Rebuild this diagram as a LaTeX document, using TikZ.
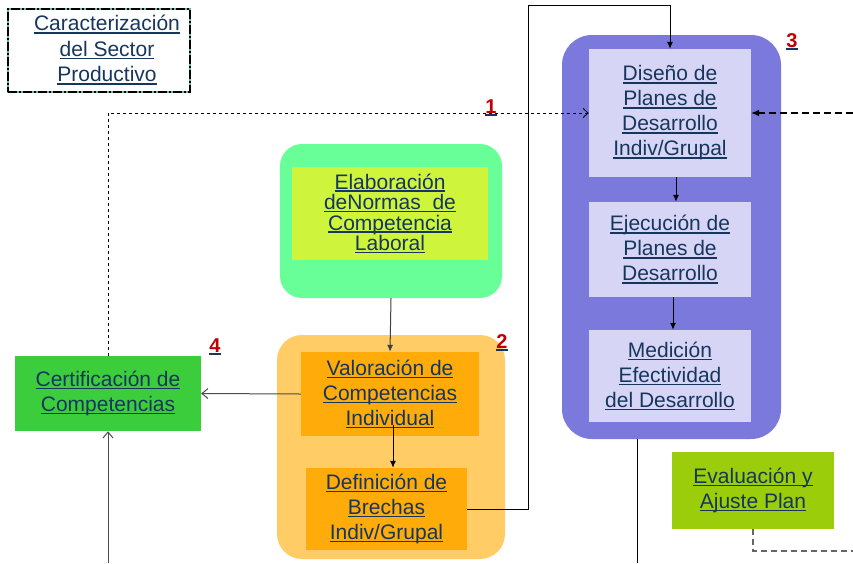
\documentclass[tikz,border=0pt]{standalone}
\usepackage{fontspec}
\setmainfont{Liberation Sans}
\usetikzlibrary{arrows.meta}

\definecolor{linktext}{RGB}{23,54,93}
\definecolor{numred}{RGB}{192,0,0}
\definecolor{purpleout}{RGB}{124,121,221}
\definecolor{lavender}{RGB}{214,213,245}
\definecolor{mint}{RGB}{104,255,152}
\definecolor{limeinner}{RGB}{206,245,60}
\definecolor{orangeout}{RGB}{255,204,102}
\definecolor{orangein}{RGB}{255,172,10}
\definecolor{certgreen}{RGB}{60,205,60}
\definecolor{evalgreen}{RGB}{155,205,10}
\definecolor{framegreen}{RGB}{102,187,153}

% underlined link-style text line
\newsavebox\lkbox
\newcommand\lk[1]{\sbox\lkbox{#1}\rlap{\color{linktext}\rule[-2.8pt]{\wd\lkbox}{1.5pt}}\usebox\lkbox}

\tikzset{
  txt/.style={inner sep=0pt, align=center, text=linktext,
    font=\fontsize{21}{25}\selectfont},
  stepbox/.style={txt, rectangle, draw=none},
  group/.style={rectangle, rounded corners=#1, inner sep=0pt, draw=none},
  num/.style={inner sep=0pt, anchor=base, text=numred,
    font=\fontsize{20}{24}\selectfont\bfseries},
  solid link/.style={line width=1pt, draw=black},
  filled tip/.style={-{Latex[length=7pt,width=6pt]}},
  open tip/.style={-{Straight Barb[length=6pt,width=10pt,line width=1pt]}},
}

\begin{document}
\begin{tikzpicture}[x=1pt,y=-1pt]
\useasboundingbox (0,0) rectangle (853,563);
\fill[white] (0,0) rectangle (853,563);

% --- outer rounded groups
\node[group=22pt, fill=mint, minimum width=222pt, minimum height=154pt] (elabgrp) at (391,221) {};
\node[group=25pt, fill=orangeout, minimum width=228pt, minimum height=224pt] (orgrp) at (391,447) {};
\node[group=30pt, fill=purpleout, minimum width=219pt, minimum height=404pt] (purgrp) at (671.5,237) {};

% --- frame of the sector box
\node[rectangle, draw=framegreen, line width=2pt, minimum width=182pt, minimum height=83pt, inner sep=0pt] (carframe) at (99,50.5) {};
\node[rectangle, draw=black, line width=2pt, dash pattern=on 9pt off 2pt on 2pt off 2pt, minimum width=182pt, minimum height=83pt, inner sep=0pt] (car) at (99,50.5) {};
\node[txt, font=\fontsize{21}{25.5}\selectfont] (cartext) at (107,50) {\lk{Caracterización}\\\lk{del Sector}\\\lk{Productivo}};

% --- step boxes
\node[stepbox, fill=limeinner, minimum width=196pt, minimum height=93pt, font=\fontsize{21}{20.5}\selectfont] (elab) at (390,213.5)
  {\lk{Elaboración}\\\lk{deNormas\ \ de}\\\lk{Competencia}\\\lk{Laboral}};
\node[stepbox, fill=orangein, minimum width=178pt, minimum height=84pt] (val) at (390,394)
  {\lk{Valoración de}\\\lk{Competencias}\\\lk{Individual}};
\node[stepbox, fill=orangein, minimum width=161pt, minimum height=82pt] (def) at (386.5,509)
  {\lk{Definición de}\\\lk{Brechas}\\\lk{Indiv/Grupal}};
\node[stepbox, fill=lavender, minimum width=162pt, minimum height=128pt] (dis) at (670,113)
  {\lk{Diseño de}\\\lk{Planes de}\\\lk{Desarrollo}\\\lk{Indiv/Grupal}};
\node[stepbox, fill=lavender, minimum width=162pt, minimum height=95pt] (eje) at (670,249.5)
  {\lk{Ejecución de}\\\lk{Planes de}\\\lk{Desarrollo}};
\node[stepbox, fill=lavender, minimum width=162pt, minimum height=92pt] (med) at (670,376)
  {\lk{Medición}\\\lk{Efectividad}\\\lk{del Desarrollo}};
\node[stepbox, fill=certgreen, minimum width=186pt, minimum height=75pt] (cert) at (108,393.5)
  {\lk{Certificación de}\\\lk{Competencias}};
\node[stepbox, fill=evalgreen, minimum width=162pt, minimum height=77pt] (eval) at (753,490.5)
  {\lk{Evaluación y}\\\lk{Ajuste Plan}};

% --- numbered labels
\node[num] (n1) at (491,113) {\lk{1}};
\node[num] (n2) at (502,348) {\lk{2}};
\node[num] (n3) at (792,47) {\lk{3}};
\node[num] (n4) at (215,352) {\lk{4}};

% --- free ends of connectors
\coordinate (topturn) at (528,5);
\coordinate (rightin) at (853,113);
\coordinate (purout) at (637,439);
\coordinate (purbottom) at (637,563);
\coordinate (certbottom) at (108,563);
\coordinate (evalout) at (853,551);
\coordinate (valdown) at ([xshift=3pt,yshift=11pt]val.south);

% --- connectors
\draw[solid link, draw=black!75, filled tip] (elabgrp.south) -- (val.north);
\draw[solid link, filled tip] (valdown) -- (valdown |- def.north);
\draw[solid link, draw=black!70, open tip] (val.west) -- (cert.east);
\draw[solid link, draw=black!70, open tip] (certbottom) -- (cert.south);
\draw[solid link, filled tip] (def.east) -| (topturn) -| (dis.north);
\draw[solid link, filled tip] ([xshift=6pt]dis.south) -- ([xshift=6pt]eje.north);
\draw[solid link, filled tip] ([xshift=3pt]eje.south) -- ([xshift=3pt]med.north);
\draw[solid link] (purout) -- (purbottom);
\draw[line width=0.9pt, dash pattern=on 3pt off 3pt,
      -{Straight Barb[length=5pt,width=9pt,line width=0.9pt]}] (cert.north) |- (dis.west);
\draw[line width=1.2pt, dash pattern=on 7pt off 4pt, -{Latex[length=8pt,width=7pt]}] (rightin) -- (dis.east);
\draw[line width=1.2pt, draw=black!60, dash pattern=on 6pt off 4pt] (eval.south) |- (evalout);
\end{tikzpicture}
\end{document}
